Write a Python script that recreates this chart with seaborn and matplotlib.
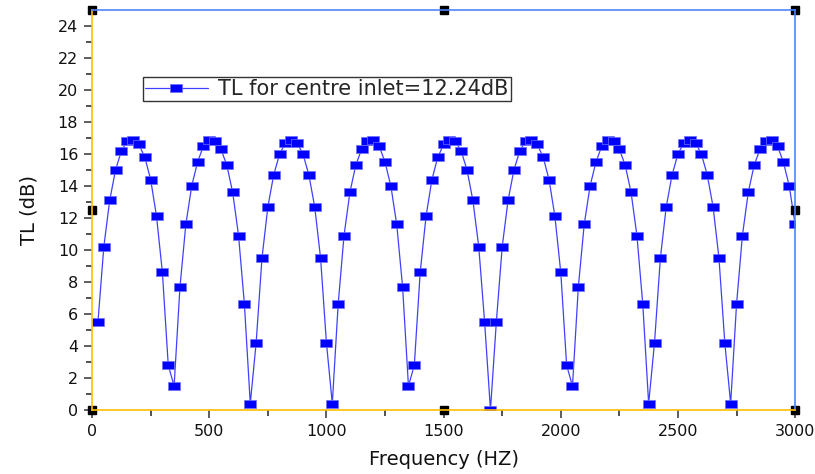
import numpy as np
import pandas as pd
import matplotlib
matplotlib.use("Agg")
import matplotlib.pyplot as plt
import seaborn as sns

# frequency grid, one reading every 25 Hz
freq = np.arange(25, 3001, 25)

tl = [5.5, 10.2, 13.1, 15.0, 16.2, 16.8, 16.9, 16.6, 15.8, 14.4, 12.1, 8.6, 2.8, 1.5, 7.7, 11.6,
      14.0, 15.5, 16.5, 16.9, 16.8, 16.3, 15.3, 13.6, 10.9, 6.6, 0.4, 4.2, 9.5, 12.7, 14.7, 16.0,
      16.7, 16.9, 16.7, 16.0, 14.7, 12.7, 9.5, 4.2, 0.4, 6.6, 10.9, 13.6, 15.3, 16.3, 16.8, 16.9,
      16.5, 15.5, 14.0, 11.6, 7.7, 1.5, 2.8, 8.6, 12.1, 14.4, 15.8, 16.6, 16.9, 16.8, 16.2, 15.0,
      13.1, 10.2, 5.5, 0.0, 5.5, 10.2, 13.1, 15.0, 16.2, 16.8, 16.9, 16.6, 15.8, 14.4, 12.1, 8.6,
      2.8, 1.5, 7.7, 11.6, 14.0, 15.5, 16.5, 16.9, 16.8, 16.3, 15.3, 13.6, 10.9, 6.6, 0.4, 4.2,
      9.5, 12.7, 14.7, 16.0, 16.7, 16.9, 16.7, 16.0, 14.7, 12.7, 9.5, 4.2, 0.4, 6.6, 10.9, 13.6,
      15.3, 16.3, 16.8, 16.9, 16.5, 15.5, 14.0, 11.6]

x_ticks = [0, 500, 1000, 1500, 2000, 2500, 3000]
y_ticks = list(range(0, 25, 2))
label = "TL for centre inlet=12.24dB"

df = pd.DataFrame({"Frequency": freq, "TL": tl})

sns.set_style("ticks")
plt.rcParams["font.family"] = ["DejaVu Sans"]

fig = plt.figure(figsize=(8.15, 4.74), dpi=100)
ax = fig.add_axes([0.113, 0.135, 0.8626, 0.8436])

rect = [(-1, -0.7), (1, -0.7), (1, 0.7), (-1, 0.7), (-1, -0.7)]
sns.lineplot(data=df, x="Frequency", y="TL", ax=ax, color="#4040ff", lw=0.9,
             marker=rect, ms=9, mfc="#0000ff", mec="#7070ff", mew=0.5, label=label)

ax.set_xlim(0, 3000)
ax.set_ylim(0, 25)
ax.set_xticks(x_ticks)
ax.set_xticks(np.arange(250, 3000, 500), minor=True)
ax.set_yticks(y_ticks)
ax.set_yticks(np.arange(1, 25, 2), minor=True)
ax.tick_params(axis="both", which="major", direction="out", length=6, width=1.1,
               color="#333333", labelsize=11.5, labelcolor="#111111", pad=4)
ax.tick_params(axis="both", which="minor", direction="out", length=4, width=1.1, color="#222222")

for s in ["left", "bottom"]:
    ax.spines[s].set_color("#ffc000")
    ax.spines[s].set_linewidth(1.2)
for s in ["top", "right"]:
    ax.spines[s].set_visible(True)
    ax.spines[s].set_color("#4a86ff")
    ax.spines[s].set_linewidth(1.2)

ax.set_xlabel("Frequency (HZ)", fontsize=14, color="#111111", labelpad=8)
ax.set_ylabel("TL (dB)", fontsize=14, color="#111111", labelpad=14)

# selection handles around the frame
hx = [0, 0.5, 1, 0, 1, 0, 0.5, 1]
hy = [1, 1, 1, 0.5, 0.5, 0, 0, 0]
ax.plot(hx, hy, ls="none", marker="s", ms=6, color="black", transform=ax.transAxes, clip_on=False)

leg = ax.legend(loc="upper left", bbox_to_anchor=(0.0725, 0.833), borderaxespad=0,
                fontsize=15, frameon=True, fancybox=False, handlelength=3.0,
                borderpad=0.1, handletextpad=0.5)
leg.get_frame().set_edgecolor("black")
leg.get_frame().set_linewidth(1.0)

fig.savefig("out.png", dpi=100)
